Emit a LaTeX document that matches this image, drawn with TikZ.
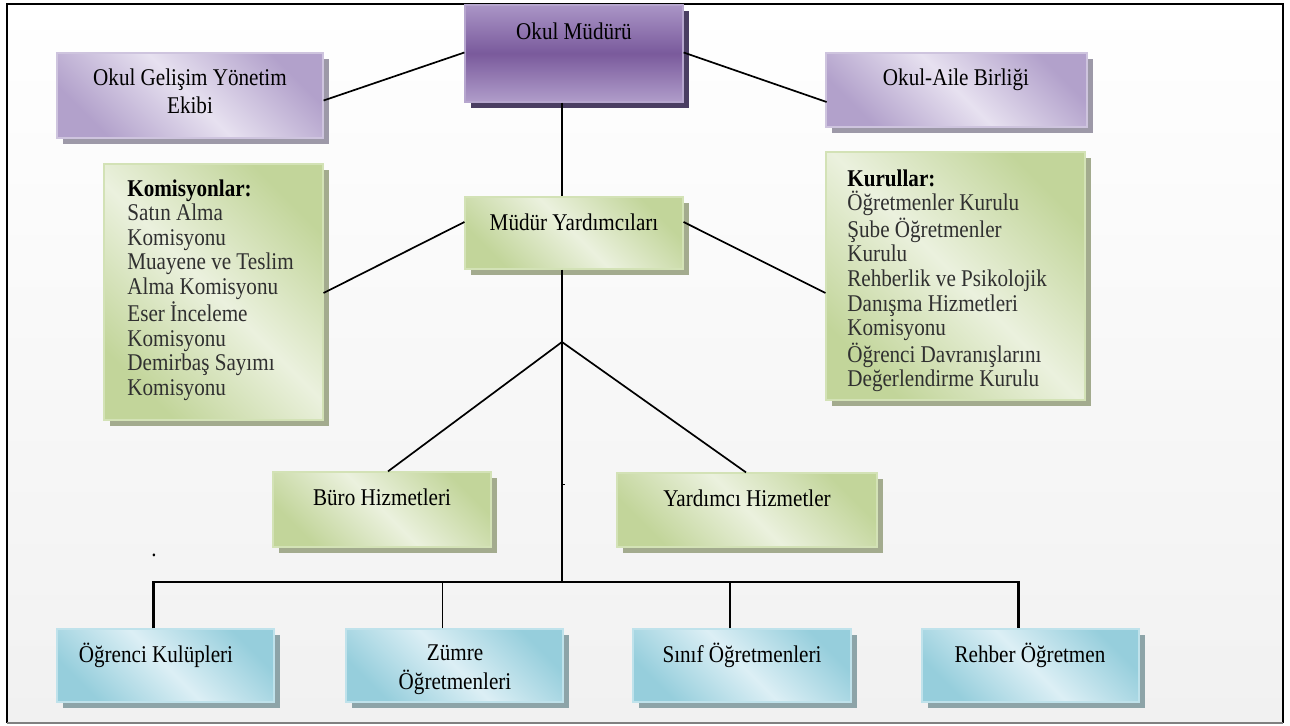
\documentclass[tikz,border=0pt]{standalone}
\usepackage{fontspec}
\setmainfont[FakeStretch=0.88]{Liberation Serif}
\usetikzlibrary{shadows,fit,calc}
\definecolor{bgbot}{HTML}{F1F1F1}
\definecolor{gdark}{HTML}{C2D59A}
\definecolor{glight}{HTML}{EBF1DE}
\definecolor{gborder}{HTML}{D3E2B6}
\definecolor{gshadow}{HTML}{A3AB8E}
\definecolor{bdark}{HTML}{96CEDC}
\definecolor{blight}{HTML}{DCEFF5}
\definecolor{bborder}{HTML}{BFE2EB}
\definecolor{bshadow}{HTML}{8DA4A8}
\definecolor{pdark}{HTML}{B2A1CB}
\definecolor{plight}{HTML}{E7E1F0}
\definecolor{pborder}{HTML}{CEC4DE}
\definecolor{pshadow}{HTML}{9D99A8}
\definecolor{mtop}{HTML}{AA95C6}
\definecolor{mmid}{HTML}{7A5A9C}
\definecolor{mbot}{HTML}{B09DCA}
\definecolor{mborder}{HTML}{B6A6CE}
\definecolor{mshadow}{HTML}{4A3E62}
\definecolor{listtext}{HTML}{303030}
\newcommand\fs{\fontsize{12}{12.3}\selectfont}
\begin{document}
\begin{tikzpicture}[x=0.5pt,y=-0.5pt,
  boxbase/.style={inner sep=0pt, line width=0.6pt},
  gbox/.style={boxbase, draw=gborder, top color=gdark, bottom color=gdark, middle color=glight, shading angle=-45,
    drop shadow={shadow xshift=3pt, shadow yshift=-3pt, fill=gshadow, opacity=1}},
  bbox/.style={boxbase, draw=bborder, top color=bdark, bottom color=bdark, middle color=blight, shading angle=-45,
    drop shadow={shadow xshift=3pt, shadow yshift=-3pt, fill=bshadow, opacity=1}},
  pbox/.style={boxbase, draw=pborder, top color=pdark, bottom color=pdark, middle color=plight, shading angle=-45,
    drop shadow={shadow xshift=3pt, shadow yshift=-3pt, fill=pshadow, opacity=1}},
  mbox/.style={boxbase, draw=mborder, top color=mtop, bottom color=mbot, middle color=mmid,
    drop shadow={shadow xshift=3pt, shadow yshift=-3pt, fill=mshadow, opacity=1}},
  lbl/.style={inner sep=0pt, font=\fs, align=center},
  listlbl/.style={inner sep=0pt, font=\fs, align=left, anchor=north west, text=listtext},
  conn/.style={line width=0.85pt, black}
]
\useasboundingbox (0,0) rectangle (1290,726);
\fill[white] (0,0) rectangle (1290,726);
\shade[top color=white, bottom color=bgbot] (7,4) rectangle (1283,723);
\draw[line width=1pt] (7,723) -- (7,4) -- (1283,4) -- (1283,723);
\draw[line width=1pt, gray] (7,723) -- (1283,723);

% boxes
\node[mbox, fit={(465,5)(683,102)}] (mudur) {};
\node[pbox, fit={(57,53)(323,138)}] (gelisim) {};
\node[pbox, fit={(826,53)(1087,127)}] (aile) {};
\node[gbox, fit={(104,164)(323,420)}] (komisyon) {};
\node[gbox, fit={(826,152)(1085,400)}] (kurul) {};
\node[gbox, fit={(465,197)(683,269)}] (my) {};
\node[gbox, fit={(273,472)(491,547)}] (buro) {};
\node[gbox, fit={(617,473)(877,547)}] (yard) {};
\node[bbox, fit={(57,629)(274,702)}] (ogr) {};
\node[bbox, fit={(346,629)(563,702)}] (zumre) {};
\node[bbox, fit={(633,629)(851,702)}] (sinif) {};
\node[bbox, fit={(922,629)(1139,702)}] (rehber) {};

% labels
\node[lbl] (tmudur) at (574,31) {Okul Müdürü};
\node[lbl, font=\fontsize{12}{14}\selectfont] (tgelisim) at (190,91) {Okul Gelişim Yönetim\\Ekibi};
\node[lbl] (taile) at (956,80) {Okul-Aile Birliği};
\node[listlbl] (tkomisyon) at (127,179) {\textcolor{black}{\textbf{Komisyonlar:}}\\Satın Alma\\Komisyonu\\Muayene ve Teslim\\Alma Komisyonu\\Eser İnceleme\\Komisyonu\\Demirbaş Sayımı\\Komisyonu};
\node[listlbl] (tkurul) at (847,169) {\textcolor{black}{\textbf{Kurullar:}}\\Öğretmenler Kurulu\\Şube Öğretmenler\\Kurulu\\Rehberlik ve Psikolojik\\Danışma Hizmetleri\\Komisyonu\\Öğrenci Davranışlarını\\Değerlendirme Kurulu};
\node[lbl] (tmy) at (574,222) {Müdür Yardımcıları};
\node[lbl] (tburo) at (382,497) {Büro Hizmetleri};
\node[lbl] (tyard) at (747,498) {Yardımcı Hizmetler};
\node[lbl] (togr) at (156,655) {Öğrenci Kulüpleri};
\node[lbl, font=\fontsize{12}{14.5}\selectfont] (tzumre) at (455,670) {Zümre\\Öğretmenleri};
\node[lbl] (tsinif) at (742,655) {Sınıf Öğretmenleri};
\node[lbl] (trehber) at (1030,655) {Rehber Öğretmen};
\node[lbl] (tdot) at (154,555) {.};

% connectors
\draw[conn] ($(mudur.west)+(0,-1)$) -- ($(gelisim.east)+(0,5)$);
\draw[conn] ($(mudur.east)+(0,-1)$) -- ($(aile.east)+(-261,12)$);
\draw[conn] ($(mudur.south)+(-12,0)$) -- ($(my.north)+(-12,0)$);
\draw[conn] ($(my.west)+(0,-11)$) -- ($(komisyon.east)+(0,1)$);
\draw[conn] ($(my.east)+(0,-11)$) -- ($(kurul.west)+(0,17)$);
\coordinate (hub) at (562,342);
\coordinate (bus) at (562,582);
\draw[conn] ($(my.south)+(-12,0)$) -- (bus);
\draw[conn] (hub) -- ($(buro.north)+(6,0)$);
\draw[conn] (hub) -- ($(yard.north)+(-1,0)$);
\draw[line width=0.5pt] (562,485) -- (565,485);
\coordinate (dogr) at ($(ogr.north)+(-12,0)$);
\coordinate (dzumre) at ($(zumre.north)+(-12,0)$);
\coordinate (dsinif) at ($(sinif.north)+(-12,0)$);
\coordinate (drehber) at ($(rehber.north)+(-12,0)$);
\draw[line width=1.1pt] (dogr) |- (bus) -| (drehber);
\draw[conn] (dzumre) -- (dzumre |- bus);
\draw[conn] (dsinif) -- (dsinif |- bus);
\end{tikzpicture}
\end{document}
